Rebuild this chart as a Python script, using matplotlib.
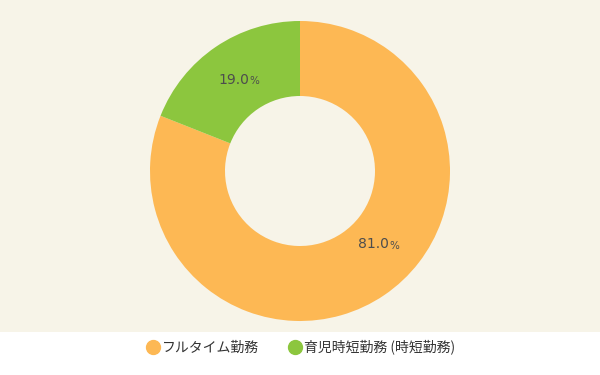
import numpy as np
import matplotlib
matplotlib.use("Agg")
import matplotlib.pyplot as plt
from matplotlib.lines import Line2D

plt.rcParams['font.family'] = ['Noto Sans CJK JP', 'DejaVu Sans']

labels = ["フルタイム勤務", "育児時短勤務 (時短勤務)"]
values = [81.0, 19.0]
colors = ["#fdb854", "#8cc63e"]

fig = plt.figure(figsize=(6, 3.75), dpi=100)
fig.patch.set_facecolor("white")

# pie area with beige background
ax = fig.add_axes([0, 43 / 375, 1, 332 / 375])
wedges, _ = ax.pie(values, colors=colors, startangle=90, counterclock=False,
                   radius=1.0, wedgeprops=dict(width=0.5, linewidth=0))
ax.set_frame_on(True)
ax.set_facecolor("#f7f4e8")
for s in ax.spines.values():
    s.set_visible(False)
ax.set_xticks([])
ax.set_yticks([])
ax.set_xlim(-2, 2)
ax.set_ylim(-161 / 150, 171 / 150)
ax.set_aspect("auto")

# percentage labels (number + smaller %)
label_pos = [(0.49, -0.49), (-0.44, 0.61)]
for (x, y), v in zip(label_pos, values):
    ax.text(x + 0.1, y, f"{v:.1f}", ha="right", va="center",
            fontsize=10, color="#4d4d4d", family="DejaVu Sans")
    ax.text(x + 0.105, y - 0.01, "%", ha="left", va="center",
            fontsize=7.5, color="#4d4d4d", family="DejaVu Sans")

handles = [Line2D([], [], marker="o", linestyle="", markersize=10,
                  markerfacecolor=c, markeredgecolor=c) for c in colors]
fig.legend(handles, labels, loc="center", bbox_to_anchor=(0.5, 28 / 375),
           ncol=2, frameon=False, fontsize=10, handletextpad=0.05,
           handlelength=1.2, columnspacing=2.0, labelcolor="#333333")

fig.savefig("out.png", dpi=100, facecolor=fig.get_facecolor())
